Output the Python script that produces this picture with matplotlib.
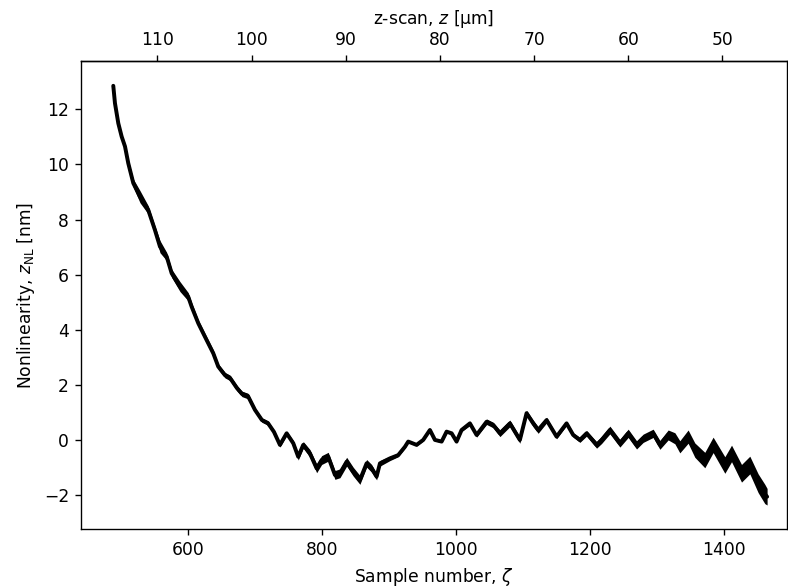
import numpy as np
import matplotlib
matplotlib.use("Agg")
import matplotlib.pyplot as plt

# Sample number (zeta)
sample = [488.2, 490.7, 495.7, 500.7, 505.7, 510.6, 518.1, 528.1, 540.4, 550.4,
          557.9, 567.9, 575.4, 587.8, 600.1, 605.2, 615.1, 625.1, 637.5, 644.9,
          654.9, 662.4, 672.8, 680.3, 689.3, 699.7, 710.1, 719.1, 728.1, 737.0,
          747.0, 756.9, 764.3, 771.8, 781.8, 791.8, 799.3, 809.1, 819.1, 826.6,
          836.6, 846.4, 856.4, 866.4, 873.9, 881.3, 886.3, 901.2, 913.6, 923.6,
          928.5, 941.0, 950.9, 960.9, 968.4, 978.4, 985.8, 993.3, 1000.7, 1008.2,
          1020.6, 1030.6, 1045.5, 1055.4, 1065.4, 1080.3, 1095.2, 1105.2, 1115.1, 1122.5,
          1135.1, 1150.0, 1164.9, 1174.8, 1184.8, 1194.8, 1209.7, 1217.2, 1229.6, 1244.5,
          1256.9, 1269.4, 1279.3, 1294.2, 1304.2, 1316.6, 1326.6, 1334.0, 1346.4, 1356.4,
          1371.3, 1383.7, 1401.2, 1411.2, 1426.1, 1438.5, 1450.9, 1460.9, 1464.3]

# Nonlinearity z_NL [nm] (centre of the trace bundle)
z_nl = [12.85, 12.22, 11.49, 11.01, 10.65, 10.04, 9.32, 8.83, 8.35, 7.62,
        7.02, 6.66, 6.05, 5.57, 5.20, 4.84, 4.24, 3.75, 3.15, 2.67,
        2.36, 2.26, 1.89, 1.68, 1.60, 1.10, 0.73, 0.62, 0.30, -0.17,
        0.25, -0.11, -0.60, -0.17, -0.48, -1.02, -0.72, -0.60, -1.26, -1.20,
        -0.78, -1.14, -1.44, -0.84, -1.02, -1.32, -0.84, -0.66, -0.54, -0.24,
        -0.05, -0.17, 0.01, 0.37, 0.01, -0.05, 0.31, 0.25, -0.05, 0.37,
        0.61, 0.19, 0.67, 0.55, 0.25, 0.61, 0.01, 0.98, 0.61, 0.37,
        0.73, 0.13, 0.61, 0.19, 0.01, 0.25, -0.17, 0.01, 0.37, -0.11,
        0.25, -0.17, 0.07, 0.25, -0.17, 0.19, 0.07, -0.24, 0.13, -0.36,
        -0.72, -0.17, -0.90, -0.48, -1.20, -0.90, -1.56, -1.95, -2.05]

# Half-spread of the trace bundle [nm]
spread = [0.02, 0.05, 0.08, 0.10, 0.12, 0.12, 0.15, 0.22, 0.15, 0.15,
          0.22, 0.15, 0.15, 0.18, 0.15, 0.15, 0.12, 0.12, 0.12, 0.10,
          0.10, 0.10, 0.10, 0.10, 0.10, 0.08, 0.08, 0.08, 0.08, 0.08,
          0.08, 0.10, 0.12, 0.12, 0.14, 0.16, 0.16, 0.16, 0.16, 0.16,
          0.16, 0.16, 0.16, 0.14, 0.14, 0.12, 0.10, 0.08, 0.06, 0.05,
          0.04, 0.04, 0.04, 0.04, 0.04, 0.04, 0.05, 0.05, 0.05, 0.06,
          0.08, 0.08, 0.10, 0.10, 0.12, 0.12, 0.12, 0.10, 0.12, 0.12,
          0.10, 0.08, 0.08, 0.08, 0.09, 0.10, 0.12, 0.13, 0.14, 0.14,
          0.15, 0.15, 0.15, 0.15, 0.16, 0.18, 0.20, 0.22, 0.24, 0.26,
          0.28, 0.28, 0.30, 0.30, 0.32, 0.32, 0.34, 0.35, 0.30]

z_ticks = [110, 100, 90, 80, 70, 60, 50]

s = np.array(sample)
y = np.array(z_nl)
w = np.array(spread)

DPI = 123.125
fig = plt.figure(figsize=(788 / DPI, 588 / DPI), dpi=DPI)
ax = fig.add_axes([81 / 788, 59 / 588, 706 / 788, 468 / 588])

ax.fill_between(s, y - w, y + w, color="black", linewidth=0)
ax.plot(s, y, color="black", lw=2.3, solid_joinstyle="round", solid_capstyle="round")

ax.set_xlim(440, 1494)
ax.set_ylim(-3.22, 13.75)
ax.set_xticks([600, 800, 1000, 1200, 1400])
ax.set_yticks([-2, 0, 2, 4, 6, 8, 10, 12])
ax.set_xlabel(r"Sample number, $\zeta$")
ax.set_ylabel(r"Nonlinearity, $z_\mathrm{NL}$ [nm]")


def s2z(x):
    return 149.39 - 0.07111 * np.asarray(x)


def z2s(z):
    return (149.39 - np.asarray(z)) / 0.07111


sec = ax.secondary_xaxis("top", functions=(s2z, z2s))
sec.set_xticks(z_ticks)
sec.set_xlabel(r"z-scan, $z$ [µm]")

fig.savefig("out.png", dpi=DPI)
